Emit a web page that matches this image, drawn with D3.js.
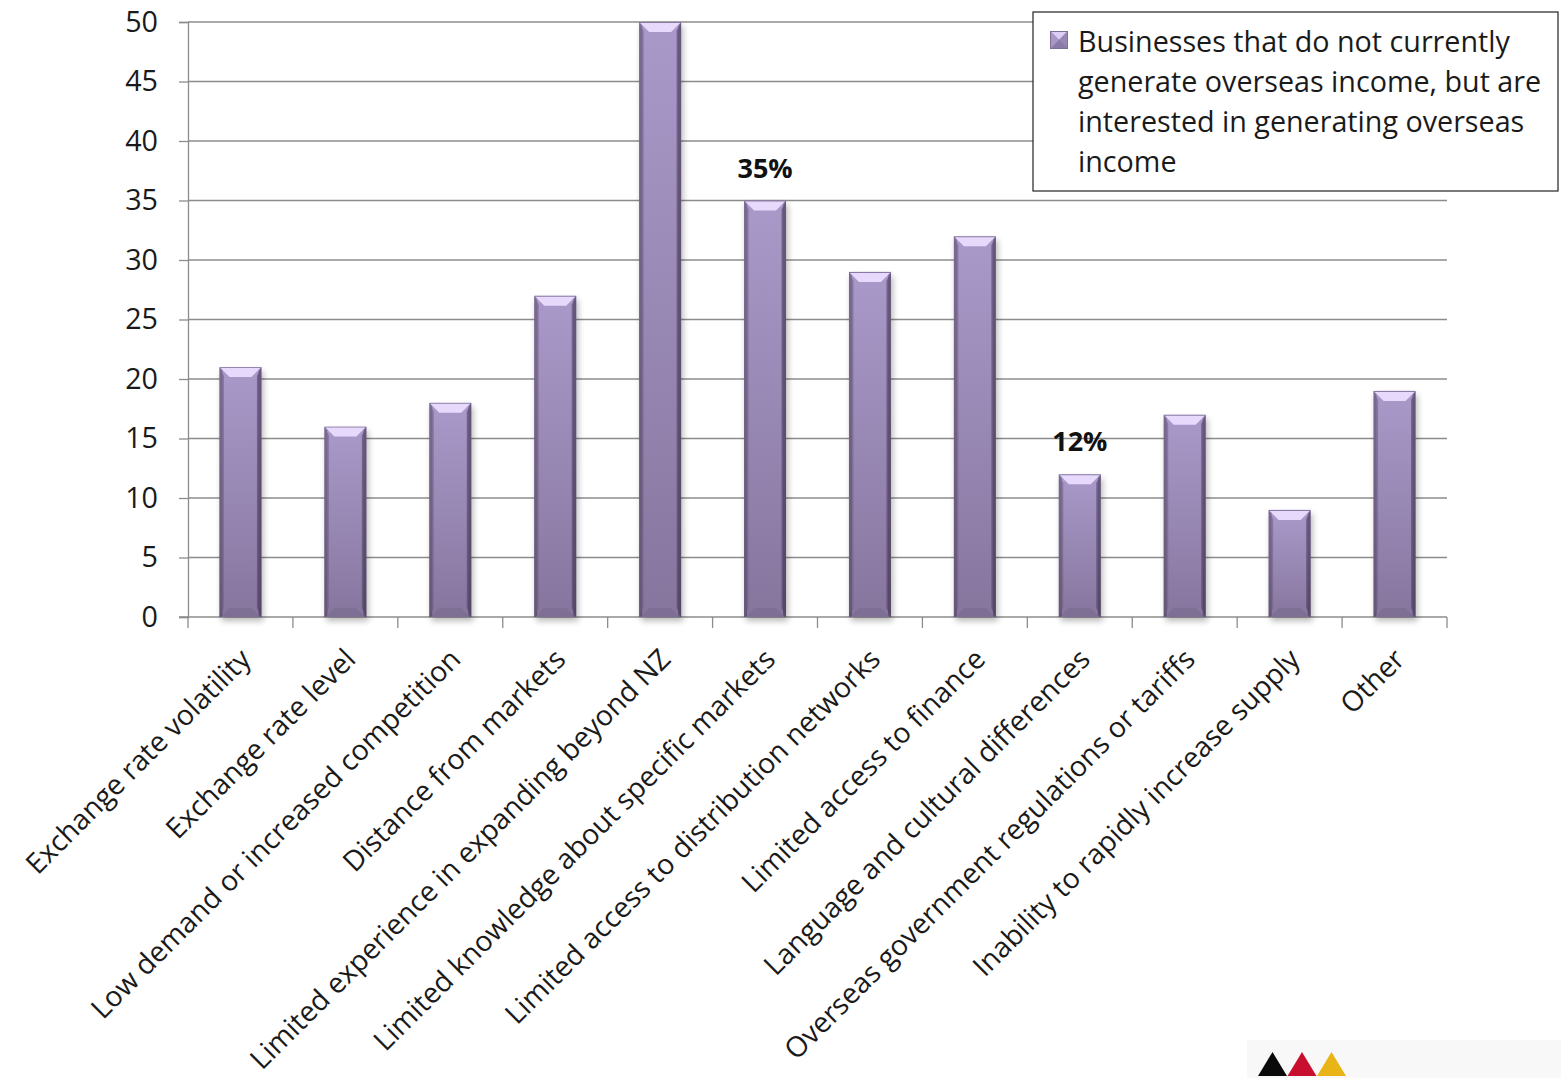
<!DOCTYPE html>
<html>
<head>
<meta charset="utf-8">
<script src="https://cdn.jsdelivr.net/npm/d3@7"></script>
<style>
  html, body { margin: 0; padding: 0; background: #fff; }
  svg { display: block; font-family: "Open Sans", Lato, sans-serif; }
</style>
</head>
<body>
<svg id="chart" width="1561" height="1078"></svg>
<script>
// Barriers to generating overseas income (% of businesses)
const categories = [
  "Exchange rate volatility",
  "Exchange rate level",
  "Low demand or increased competition",
  "Distance from markets",
  "Limited experience in expanding beyond NZ",
  "Limited knowledge about specific markets",
  "Limited access to distribution networks",
  "Limited access to finance",
  "Language and cultural differences",
  "Overseas government regulations or tariffs",
  "Inability to rapidly increase supply",
  "Other"
];
const values = [21, 16, 18, 27, 50, 35, 29, 32, 12, 17, 9, 19];
const labelledBars = ["Limited knowledge about specific markets", "Language and cultural differences"];
const yTicks = [0, 5, 10, 15, 20, 25, 30, 35, 40, 45, 50];
const seriesName = ["Businesses that do not currently", "generate overseas income, but are", "interested in generating overseas", "income"];
const logoColors = ["#0a0a0a", "#c8102e", "#e9b516"];

const svg = d3.select("#chart");
const plot = { left: 188, right: 1447, top: 22, bottom: 617 };
const fontSize = 28.7;

const x = d3.scaleBand().domain(categories).range([plot.left, plot.right]).padding(0);
const y = d3.scaleLinear().domain([0, 50]).range([plot.bottom, plot.top]);
const barW = x.bandwidth() * 0.4;

// gradients and filters
const defs = svg.append("defs");
const face = defs.append("linearGradient").attr("id", "face").attr("x1", 0).attr("y1", 0).attr("x2", 0).attr("y2", 1);
face.append("stop").attr("offset", "0%").attr("stop-color", "#a999c9");
face.append("stop").attr("offset", "100%").attr("stop-color", "#86769e");
const side = defs.append("linearGradient").attr("id", "side").attr("x1", 0).attr("y1", 0).attr("x2", 0).attr("y2", 1);
side.append("stop").attr("offset", "0%").attr("stop-color", "#8a7aa8");
side.append("stop").attr("offset", "100%").attr("stop-color", "#5f516f");
const shadow = defs.append("filter").attr("id", "shadow").attr("x", "-30%").attr("y", "-10%").attr("width", "160%").attr("height", "130%");
shadow.append("feGaussianBlur").attr("stdDeviation", 3);

// gridlines
svg.append("g")
  .selectAll("line")
  .data(yTicks.filter(d => d > 0))
  .join("line")
  .attr("x1", plot.left).attr("x2", plot.right)
  .attr("y1", d => y(d)).attr("y2", d => y(d))
  .attr("stroke", "#8c8c8c").attr("stroke-width", 1.3);

// y axis
const yAxis = svg.append("g")
  .attr("transform", `translate(${plot.left},0)`)
  .call(d3.axisLeft(y).tickValues(yTicks).tickSize(9).tickPadding(21))
  .attr("font-family", null)
  .attr("font-size", null);
yAxis.select(".domain").attr("stroke", "#8c8c8c").attr("stroke-width", 1.3);
yAxis.selectAll(".tick line").attr("stroke", "#8c8c8c").attr("stroke-width", 1.3);
yAxis.selectAll(".tick text").attr("font-size", fontSize).attr("fill", "#1a1a1a");

// x axis baseline and category ticks
const xAxis = svg.append("g");
xAxis.append("line")
  .attr("x1", plot.left - 9).attr("x2", plot.right)
  .attr("y1", plot.bottom).attr("y2", plot.bottom)
  .attr("stroke", "#8c8c8c").attr("stroke-width", 1.3);
xAxis.selectAll("line.tick")
  .data(d3.range(categories.length + 1))
  .join("line")
  .attr("class", "tick")
  .attr("x1", i => plot.left + i * x.step())
  .attr("x2", i => plot.left + i * x.step())
  .attr("y1", plot.bottom).attr("y2", plot.bottom + 11)
  .attr("stroke", "#8c8c8c").attr("stroke-width", 1.3);

// rotated category labels
xAxis.selectAll("text")
  .data(categories)
  .join("text")
  .attr("transform", d => `translate(${x(d) + x.bandwidth() / 2 + 12},${plot.bottom + 44}) rotate(-45)`)
  .attr("text-anchor", "end")
  .attr("font-size", 28.3)
  .attr("fill", "#1a1a1a")
  .text(d => d);

// bevelled bars
const bars = svg.append("g")
  .selectAll("g")
  .data(categories.map((c, i) => ({ c, v: values[i] })))
  .join("g")
  .attr("transform", d => `translate(${x(d.c) + x.bandwidth() / 2 - barW / 2},0)`);

bars.append("rect")
  .attr("x", 2).attr("y", d => y(d.v) + 4)
  .attr("width", barW).attr("height", d => y(0) - y(d.v))
  .attr("fill", "#000").attr("opacity", 0.28)
  .attr("filter", "url(#shadow)");

const bev = 9;
bars.append("rect")
  .attr("x", 0).attr("y", d => y(d.v))
  .attr("width", barW).attr("height", d => y(0) - y(d.v))
  .attr("fill", "url(#side)");
bars.append("rect")
  .attr("x", 3).attr("y", d => y(d.v) + 3)
  .attr("width", barW - 6).attr("height", d => y(0) - y(d.v) - 3)
  .attr("fill", "url(#face)");
// top bevel highlight
bars.append("path")
  .attr("d", d => {
    const t = y(d.v);
    return `M1,${t + 1} L${barW - 1},${t + 1} L${barW - 1 - bev},${t + bev + 1} L${1 + bev},${t + bev + 1} Z`;
  })
  .attr("fill", "#e6d9fb");
// bottom bevel shade
bars.append("path")
  .attr("d", d => {
    const b = y(0);
    return `M1,${b} L${barW - 1},${b} L${barW - 1 - bev},${b - bev} L${1 + bev},${b - bev} Z`;
  })
  .attr("fill", "#7c6d92").attr("opacity", 0.8);
// side edges
bars.append("path")
  .attr("d", d => {
    const t = y(d.v), b = y(0);
    return `M0,${t} L${bev * 0.5},${t + bev} L${bev * 0.5},${b - bev} L0,${b} Z`;
  })
  .attr("fill", "#6c5d80").attr("opacity", 0.55);
bars.append("path")
  .attr("d", d => {
    const t = y(d.v), b = y(0);
    return `M${barW},${t} L${barW - bev * 0.5},${t + bev} L${barW - bev * 0.5},${b - bev} L${barW},${b} Z`;
  })
  .attr("fill", "#4e4160").attr("opacity", 0.6);

// value labels on selected bars
svg.append("g")
  .selectAll("text")
  .data(categories.map((c, i) => ({ c, v: values[i] })).filter(d => labelledBars.includes(d.c)))
  .join("text")
  .attr("x", d => x(d.c) + x.bandwidth() / 2)
  .attr("y", d => y(d.v) - 23)
  .attr("text-anchor", "middle")
  .attr("font-size", 27)
  .attr("font-weight", "bold")
  .attr("fill", "#111")
  .text(d => d.v + "%");

// legend
const lg = svg.append("g").attr("transform", "translate(1033,12)");
lg.append("rect").attr("width", 525).attr("height", 179)
  .attr("fill", "#fff").attr("stroke", "#222").attr("stroke-width", 1.2);
const mk = lg.append("g").attr("transform", "translate(17,19)");
mk.append("rect").attr("width", 18).attr("height", 18).attr("fill", "#7e6f98");
mk.append("path").attr("d", "M1,1 L17,1 L9,9 Z").attr("fill", "#dccdf5");
mk.append("path").attr("d", "M1,17 L17,17 L9,9 Z").attr("fill", "#8a7aa8");
mk.append("path").attr("d", "M1,1 L9,9 L1,17 Z").attr("fill", "#a898c6");
mk.append("path").attr("d", "M17,1 L9,9 L17,17 Z").attr("fill", "#9787b5");
lg.selectAll("text.lg")
  .data(seriesName)
  .join("text")
  .attr("class", "lg")
  .attr("x", 45)
  .attr("y", (d, i) => 40 + i * 40)
  .attr("font-size", fontSize)
  .attr("fill", "#1a1a1a")
  .text(d => d);

// brand mark
const logo = svg.append("g").attr("transform", "translate(1247,1040)");
logo.append("rect").attr("width", 314).attr("height", 38).attr("fill", "#f8f8f8");
logo.selectAll("path")
  .data(logoColors)
  .join("path")
  .attr("d", (d, i) => {
    const x0 = 11 + i * 29.5;
    return `M${x0},36 L${x0 + 14.5},12 L${x0 + 29},36 Z`;
  })
  .attr("fill", d => d);
</script>
</body>
</html>
